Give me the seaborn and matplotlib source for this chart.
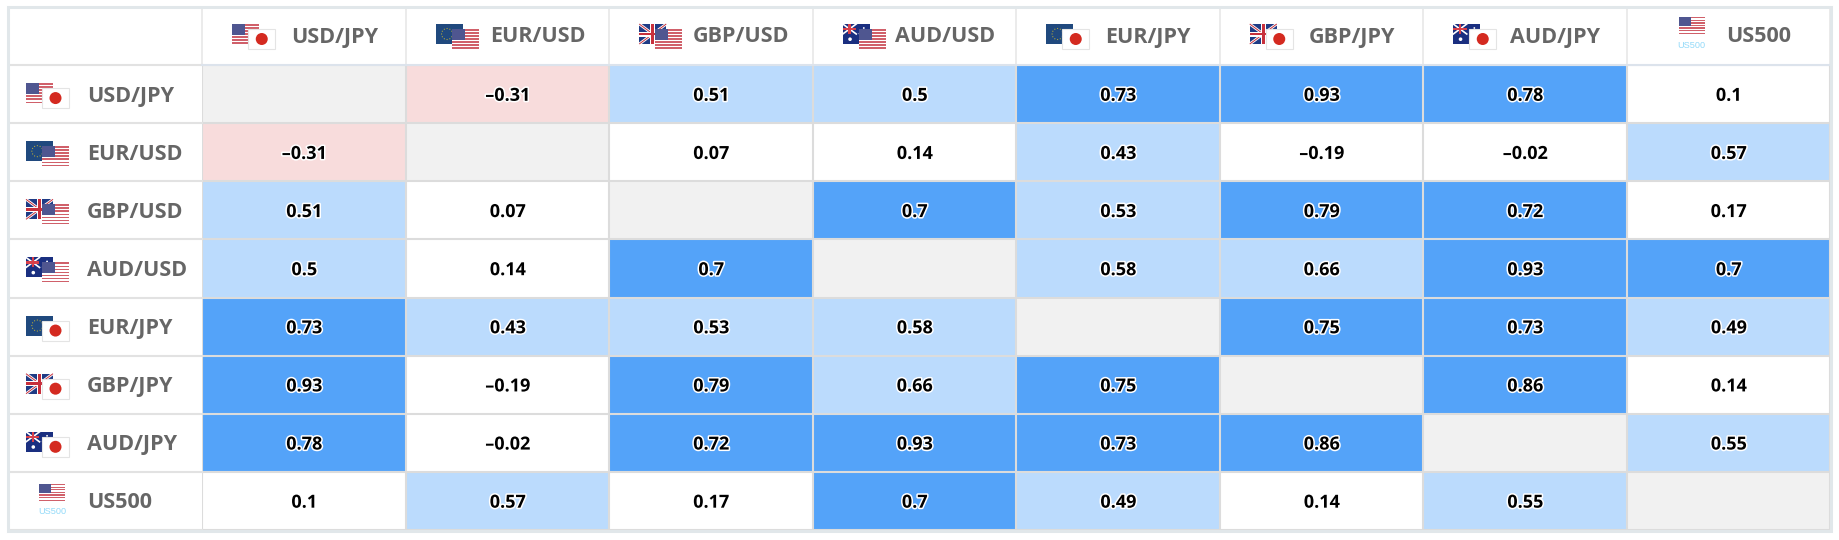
import numpy as np
import matplotlib
matplotlib.use("Agg")
import matplotlib.pyplot as plt
import matplotlib.patheffects as pe
from matplotlib.colors import ListedColormap, BoundaryNorm
from matplotlib.patches import Rectangle, Circle
import seaborn as sns

symbols = ["USD/JPY", "EUR/USD", "GBP/USD", "AUD/USD", "EUR/JPY", "GBP/JPY", "AUD/JPY", "US500"]
flag_pairs = [("us", "jp"), ("eu", "us"), ("uk", "us"), ("au", "us"),
              ("eu", "jp"), ("uk", "jp"), ("au", "jp"), ("us", None)]
nan = float("nan")
row_usdjpy = [nan, -0.31, 0.51, 0.5, 0.73, 0.93, 0.78, 0.1]
row_eurusd = [-0.31, nan, 0.07, 0.14, 0.43, -0.19, -0.02, 0.57]
row_gbpusd = [0.51, 0.07, nan, 0.7, 0.53, 0.79, 0.72, 0.17]
row_audusd = [0.5, 0.14, 0.7, nan, 0.58, 0.66, 0.93, 0.7]
row_eurjpy = [0.73, 0.43, 0.53, 0.58, nan, 0.75, 0.73, 0.49]
row_gbpjpy = [0.93, -0.19, 0.79, 0.66, 0.75, nan, 0.86, 0.14]
row_audjpy = [0.78, -0.02, 0.72, 0.93, 0.73, 0.86, nan, 0.55]
row_us500 = [0.1, 0.57, 0.17, 0.7, 0.49, 0.14, 0.55, nan]
matrix = np.array([row_usdjpy, row_eurusd, row_gbpusd, row_audusd,
                   row_eurjpy, row_gbpjpy, row_audjpy, row_us500])
bin_edges = [-1, -0.3, 0.3, 0.7, 1]
bin_colors = ["#F8DCDC", "#FFFFFF", "#BBDBFD", "#54A3F9"]

W, H = 1840, 540
X0, X1, Y0, Y1 = 202.5, 1830.5, 65, 530
LEFT, TOP = 9, 8
GRID = "#DCDCDC"

annot = np.array([[("" if np.isnan(v) else f"{v:g}".replace("-", "\u2013")) for v in r] for r in matrix])

fig = plt.figure(figsize=(W / 100, H / 100), dpi=100, facecolor="white")
ax = fig.add_axes([X0 / W, 1 - Y1 / H, (X1 - X0) / W, (Y1 - Y0) / H])
ax.set_facecolor("#F1F1F1")
sns.heatmap(matrix, ax=ax, cmap=ListedColormap(bin_colors), norm=BoundaryNorm(bin_edges, 4),
            cbar=False, annot=annot, fmt="", xticklabels=False, yticklabels=False,
            annot_kws=dict(fontsize=13, fontweight="bold", color="black", family="Open Sans",
                           path_effects=[pe.withStroke(linewidth=2.2, foreground="white")]))
for t in ax.texts:
    px, py = t.get_position()
    t.set_position((px, py + 0.03))
n = len(symbols)
ax.hlines(range(n + 1), 0, n, color=GRID, lw=1.5, zorder=3)
ax.vlines(range(n + 1), 0, n, color=GRID, lw=1.5, zorder=3)
ax.tick_params(length=0)

ov = fig.add_axes([0, 0, 1, 1], zorder=5)
ov.set_xlim(0, W); ov.set_ylim(H, 0); ov.axis("off"); ov.patch.set_alpha(0)

cw = (X1 - X0) / n
rh = (Y1 - Y0) / n

# frame of header row and label column
for i in range(n + 1):
    ov.plot([X0 + i * cw] * 2, [TOP, Y0], color="#E8E8E8", lw=1.2, zorder=1)
    ov.plot([LEFT, X0], [Y0 + i * rh] * 2, color="#E2E2E2", lw=1.5, zorder=1)
ov.plot([X0, X1], [Y0, Y0], color="#DCE3EC", lw=1.5, zorder=1)
ov.add_patch(Rectangle((LEFT - 1, TOP - 1), X1 - LEFT + 2, Y1 - TOP + 2, fc="none", ec="#E1E7EA", lw=2.2, zorder=2))


def rect(x, y, w, h, c, z):
    ov.add_patch(Rectangle((x, y), w, h, fc=c, ec="none", zorder=z))


def us(x, y, w, h, z):
    rect(x, y, w, h, "#FFFFFF", z)
    for k in range(0, 7):
        rect(x, y + k * 2 * h / 13, w, h / 13, "#D0606A", z)
    rect(x, y, w * 0.48, h * 7 / 13, "#4F5690", z)


def jp(x, y, w, h, z):
    ov.add_patch(Rectangle((x, y), w, h, fc="white", ec="#E4E4E4", lw=0.8, zorder=z))
    ov.add_patch(Circle((x + w / 2, y + h / 2), h * 0.3, fc="#D42A20", ec="none", zorder=z))


def eu(x, y, w, h, z):
    rect(x, y, w, h, "#20497E", z)
    for a in np.deg2rad(np.arange(0, 360, 30)):
        ov.add_patch(Circle((x + w * 0.42 + 5.5 * np.cos(a), y + h / 2 + 5.5 * np.sin(a)), 0.6,
                            fc="#B5A93C", ec="none", zorder=z))


def uk(x, y, w, h, z):
    rect(x, y, w, h, "#1F3B85", z)
    ov.plot([x, x + w], [y, y + h], color="white", lw=2, zorder=z, solid_capstyle="butt")
    ov.plot([x, x + w], [y + h, y], color="white", lw=2, zorder=z, solid_capstyle="butt")
    ov.plot([x, x + w], [y, y + h], color="#C8303C", lw=0.7, zorder=z, solid_capstyle="butt")
    ov.plot([x, x + w], [y + h, y], color="#C8303C", lw=0.7, zorder=z, solid_capstyle="butt")
    rect(x + w / 2 - 2.5, y, 5, h, "white", z)
    rect(x, y + h / 2 - 2.5, w, 5, "white", z)
    rect(x + w / 2 - 1.3, y, 2.6, h, "#C8303C", z)
    rect(x, y + h / 2 - 1.3, w, 2.6, "#C8303C", z)


def au(x, y, w, h, z):
    rect(x, y, w, h, "#1A2F80", z)
    cw2, ch2 = w * 0.5, h * 0.5
    ov.plot([x, x + cw2], [y, y + ch2], color="white", lw=1.2, zorder=z)
    ov.plot([x, x + cw2], [y + ch2, y], color="white", lw=1.2, zorder=z)
    rect(x + cw2 / 2 - 1.1, y, 2.2, ch2, "#D8404A", z)
    rect(x, y + ch2 / 2 - 1.1, cw2, 2.2, "#D8404A", z)
    ov.add_patch(Circle((x + w * 0.27, y + h * 0.76), 1.8, fc="white", ec="none", zorder=z))
    for fx, fy in [(0.78, 0.2), (0.78, 0.82), (0.62, 0.48), (0.92, 0.42)]:
        ov.add_patch(Circle((x + w * fx, y + h * fy), 0.9, fc="white", ec="none", zorder=z))


drawers = dict(us=us, jp=jp, eu=eu, uk=uk, au=au)
FW, FH = 27, 20


def flags(pair, x, y):
    """x, y = top-left of the composite flag"""
    a, b = pair
    if b is None:
        us(x, y, 26, 17, 6)
        ov.text(x + 13, y + 28, "US500", ha="center", va="center", fontsize=6.6,
                color="#93DAF9", family="Liberation Sans", zorder=6)
    else:
        drawers[a](x, y, FW, FH, 6)
        drawers[b](x + 16, y + 5, FW, FH, 7)


label_kw = dict(fontsize=15.5, fontweight="bold", color="#666666", family="Open Sans", va="center", zorder=8)
for i, (name, pair) in enumerate(zip(symbols, flag_pairs)):
    # header
    cx = X0 + (i + 0.5) * cw
    ov.text(cx + 30, 37, name, ha="center", **label_kw)
    if pair[1] is None:
        flags(pair, cx - 50, 17)
    else:
        flags(pair, cx - 72, 24)
    # row label
    cy = Y0 + (i + 0.5) * rh
    ov.text(87, cy + 2, name, ha="left", **label_kw)
    if pair[1] is None:
        flags(pair, 39, cy - 17)
    else:
        flags(pair, 26, cy - 11)

fig.savefig("out.png", dpi=100)
